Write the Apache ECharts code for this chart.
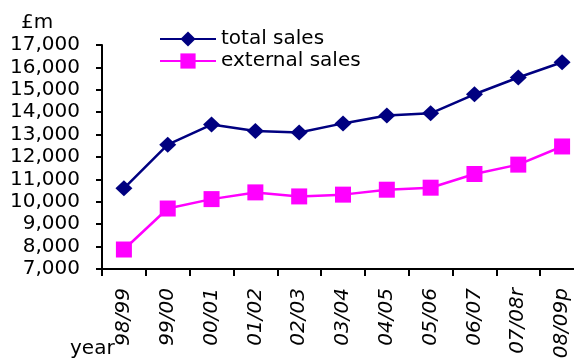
<!DOCTYPE html>
<html>
<head>
<meta charset="utf-8">
<script src="https://cdn.jsdelivr.net/npm/echarts@6/dist/echarts.min.js"></script>
<style>
html,body{margin:0;padding:0;background:#fff;}
#chart{width:574px;height:358px;}
</style>
</head>
<body>
<div id="chart"></div>
<script>
// Financial years on the category axis
const years = ['98/99','99/00','00/01','01/02','02/03','03/04','04/05','05/06','06/07','07/08r','08/09p'];
// Sales in £ million
const totalSales = [10600, 12550, 13450, 13160, 13090, 13500, 13850, 13950, 14800, 15550, 16230];
const externalSales = [7870, 9700, 10120, 10420, 10240, 10320, 10540, 10630, 11240, 11660, 12470];
// Value axis range and step
const yMin = 7000, yMax = 17000, yStep = 1000;

const font = 'DejaVu Sans, sans-serif';
const fs = 20;
const chart = echarts.init(document.getElementById('chart'));
chart.setOption({
  animation: false,
  backgroundColor: '#ffffff',
  textStyle: { fontFamily: font },
  grid: { left: 102, right: -10, top: 45, bottom: 89, containLabel: false, outerBoundsMode: 'none' },
  legend: {
    left: 154, top: 23, orient: 'vertical', itemGap: 0, padding: 5,
    itemWidth: 56, itemHeight: 19,
    textStyle: { fontFamily: font, fontSize: fs, color: '#000', lineHeight: 22 },
    data: ['total sales', 'external sales']
  },
  graphic: [
    { type: 'text', left: 21, top: 13, style: { text: '£m', font: fs + 'px ' + font, fill: '#000' } },
    { type: 'text', left: 70, top: 339, style: { text: 'year', font: fs + 'px ' + font, fill: '#000' } }
  ],
  xAxis: {
    type: 'category', data: years, boundaryGap: true,
    axisLine: { lineStyle: { color: '#000', width: 2 } },
    axisTick: { show: true, length: 7, lineStyle: { color: '#000', width: 2 } },
    axisLabel: { rotate: 90, fontStyle: 'italic', fontSize: fs, color: '#000', margin: 19, fontFamily: font }
  },
  yAxis: {
    type: 'value', min: yMin, max: yMax, interval: yStep,
    splitLine: { show: false },
    axisLine: { show: true, lineStyle: { color: '#000', width: 2 } },
    axisTick: { show: true, inside: false, length: 6, lineStyle: { color: '#000', width: 2 } },
    axisLabel: {
      fontSize: fs, color: '#000', margin: 22, fontFamily: font,
      formatter: v => v.toLocaleString('en-GB')
    }
  },
  series: [
    {
      name: 'total sales', type: 'line', data: totalSales,
      symbol: 'diamond', symbolSize: [17, 16],
      lineStyle: { color: '#000080', width: 2.5 },
      itemStyle: { color: '#000080' }
    },
    {
      name: 'external sales', type: 'line', data: externalSales,
      symbol: 'rect', symbolSize: 16,
      lineStyle: { color: '#ff00ff', width: 2.5 },
      itemStyle: { color: '#ff00ff' }
    }
  ]
});
</script>
</body>
</html>
